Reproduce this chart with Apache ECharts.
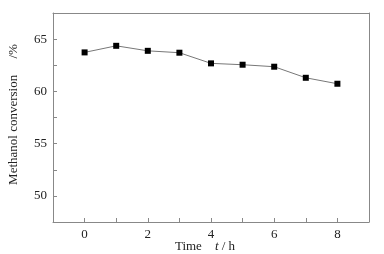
<!DOCTYPE html>
<html lang="en">
<head>
  <script src="https://cdn.jsdelivr.net/npm/echarts@6.0.0/dist/echarts.min.js"></script>
</head>
<body style="margin:0">
  <div id="conversionChart" style="width:384px;height:254px;"></div>
  <script type="text/javascript">
    var hours = [0, 1, 2, 3, 4, 5, 6, 7, 8];
    var conversion = [63.73, 64.36, 63.88, 63.7, 62.68, 62.55, 62.36, 61.3, 60.73];

    var chart = echarts.init(document.getElementById('conversionChart'));
    var font = 'Liberation Serif';
    var frameColor = '#888';

    var points = hours.map(function (h, i) { return [h, conversion[i]]; });

    var option = {
      animation: false,
      textStyle: { fontFamily: font },
      grid: { left: 53, right: 15, top: 13, bottom: 32, containLabel: false, outerBoundsMode: 'none' },
      xAxis: [{
        type: 'value',
        min: -1, max: 9, interval: 1,
        axisLine: { onZero: false, lineStyle: { color: frameColor } },
        axisTick: { inside: true, length: 4, lineStyle: { color: frameColor } },
        splitLine: { show: false },
        axisLabel: {
          color: '#222', fontSize: 13, fontFamily: font, margin: 3,
          formatter: function (v) { return (v >= 0 && v % 2 === 0) ? String(v) : ''; }
        },
        name: 'Time    {i|t} / h',
        nameLocation: 'middle',
        nameGap: 14,
        nameMoveOverlap: false,
        nameTextStyle: {
          color: '#222', fontSize: 13, fontFamily: font, padding: [0, 12, 0, 0],
          rich: { i: { fontStyle: 'italic', fontSize: 13, fontFamily: font, color: '#222' } }
        }
      }, {
        type: 'value', position: 'top',
        min: -1, max: 9,
        axisLine: { show: true, onZero: false, lineStyle: { color: frameColor } },
        axisTick: { show: false }, axisLabel: { show: false }, splitLine: { show: false }
      }],
      yAxis: [{
        type: 'value',
        min: 47.5, max: 67.5, interval: 2.5,
        axisLine: { show: true, onZero: false, lineStyle: { color: frameColor } },
        axisTick: { inside: true, length: 4, lineStyle: { color: frameColor } },
        splitLine: { show: false },
        axisLabel: {
          color: '#222', fontSize: 13, fontFamily: font, margin: 6,
          formatter: function (v) { return (v >= 50 && v <= 65 && v % 5 === 0) ? String(v) : ''; }
        },
        name: 'Methanol conversion     /%',
        nameLocation: 'middle',
        nameGap: 29,
        nameMoveOverlap: false,
        nameTextStyle: { color: '#222', fontSize: 13, fontFamily: font, padding: [0, 0, 0, 6] }
      }, {
        type: 'value', position: 'right',
        min: 47.5, max: 67.5,
        axisLine: { show: true, onZero: false, lineStyle: { color: frameColor } },
        axisTick: { show: false }, axisLabel: { show: false }, splitLine: { show: false }
      }],
      series: [{
        type: 'line',
        data: points,
        symbol: 'rect',
        symbolSize: 6,
        itemStyle: { color: '#000' },
        lineStyle: { color: '#777', width: 1 }
      }]
    };

    chart.setOption(option);
  </script>
</body>
</html>
